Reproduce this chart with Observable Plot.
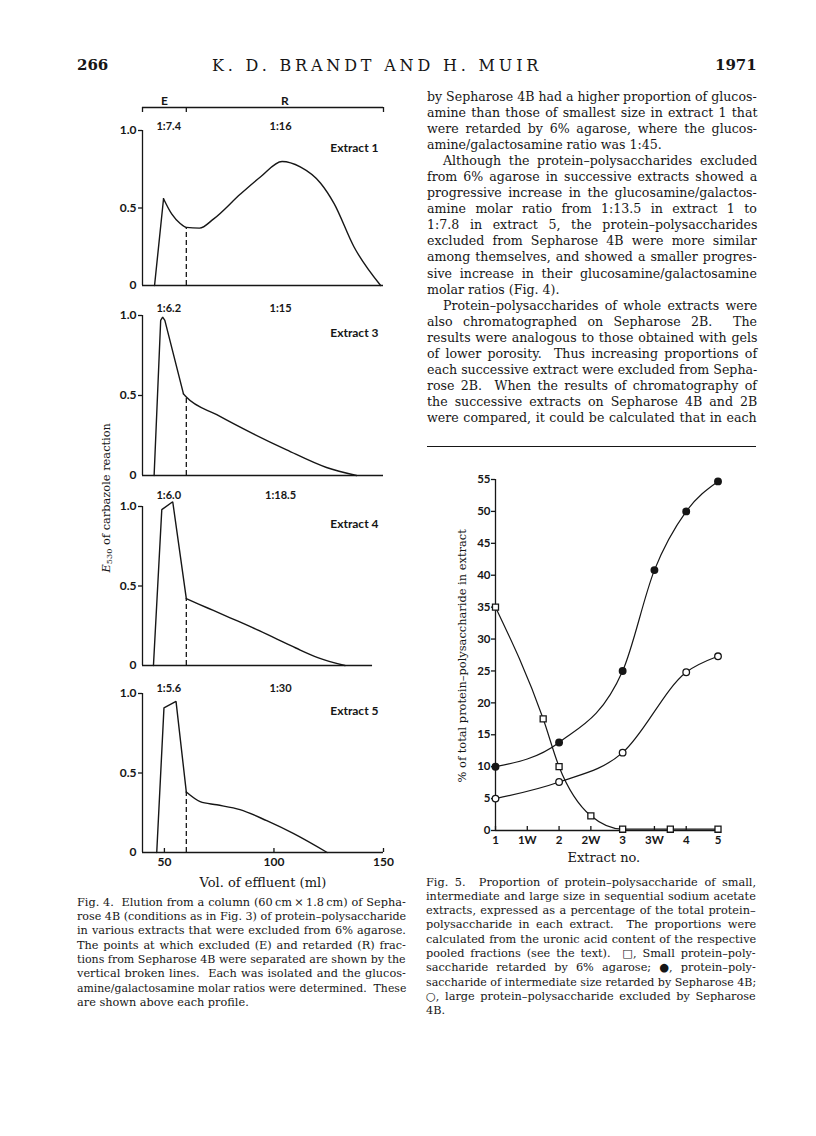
<!DOCTYPE html>
<html><head><meta charset="utf-8">
<script src="https://cdn.jsdelivr.net/npm/d3@7"></script>
<script src="https://cdn.jsdelivr.net/npm/@observablehq/plot@0.6"></script>
<style>
html,body{margin:0;padding:0;background:#fff;}
#page{position:relative;width:816px;height:1136px;overflow:hidden;background:#fff;color:#161616;}
.t{position:absolute;white-space:pre;font-family:"DejaVu Serif",serif;}
.p{position:absolute;}
svg{overflow:visible}
sub{font-size:0.72em;vertical-align:-0.25em;line-height:0}
</style></head><body><div id="page"></div>
<script>
// ---------------- Fig. 4 data (Sepharose 4B elution profiles) ----------------
const extractNames = ["Extract 1", "Extract 3", "Extract 4", "Extract 5"];
const ratioE = ["1:7.4", "1:6.2", "1:6.0", "1:5.6"];
const ratioR = ["1:16", "1:15", "1:18.5", "1:30"];
// [vol (ml), E530]; straight rising/peak segments
const peak1 = [[45.5, 0], [49.6, 0.56]];
const peak3 = [[45.3, 0], [48.3, 0.97], [49.2, 0.99], [50.2, 0.97], [58.7, 0.51]];
const peak4 = [[45, 0], [48.8, 0.98], [53.8, 1.03], [60, 0.42]];
const peak5 = [[46.5, 0], [49.8, 0.91], [55.3, 0.95], [60, 0.38]];
// smooth trailing segments
const tail1 = [[49.6, 0.56], [53.4, 0.46], [57.2, 0.40], [60, 0.375], [66, 0.37], [72.5, 0.43], [84.7, 0.59], [93.8, 0.70], [103.7, 0.80], [112, 0.765], [121.3, 0.66], [127.4, 0.53], [136.5, 0.25], [148.7, 0]];
const tail3 = [[58.7, 0.51], [60, 0.49], [73.9, 0.38], [90.6, 0.26], [105.8, 0.16], [124, 0.05], [137.7, 0]];
const tail4 = [[60, 0.42], [70, 0.36], [80, 0.30], [90, 0.24], [100, 0.175], [110, 0.11], [120, 0.05], [132.4, 0]];
const tail5 = [[60, 0.38], [66.3, 0.32], [73.9, 0.30], [84.5, 0.27], [96.7, 0.20], [108.8, 0.12], [124.3, 0]];
const cutVolume = 60;                 // E / R separation (ml)
const baselineEnd = [150, 150, 145, 150];
const volDomain = [40, 150];
const volTicks = [50, 100, 150];
const e530Ticks = [0.5, 1];
const bracketTicks = [40, 60, 150];
const bracketLabels = [{v: 50, t: "E"}, {v: 105, t: "R"}];

// ---------------- Fig. 5 data ----------------
const extractLabels = ["1", "1W", "2", "2W", "3", "3W", "4", "5"];
const extractPos = [0, 1, 2, 3, 4, 5, 6, 7];
const pctTicks = [0, 5, 10, 15, 20, 25, 30, 35, 40, 45, 50, 55];
const smallPos = [0, 1.5, 2, 3, 4, 5.5, 7];
const smallPct = [35, 17.5, 10, 2.3, 0.2, 0.2, 0.2];
const interPos = [0, 2, 4, 5, 6, 7];
const interPct = [10, 13.8, 25, 40.8, 50, 54.7];
const largePos = [0, 2, 4, 6, 7];
const largePct = [5, 7.6, 12.2, 24.8, 27.3];

// ---------------- text ----------------
const bodyLines = [
 ["by Sepharose 4B had a higher proportion of glucos-", ""],
 ["amine than those of smallest size in extract 1 that", ""],
 ["were retarded by 6% agarose, where the glucos-", ""],
 ["amine/galactosamine ratio was 1:45.", "l"],
 ["Although the protein\u2013polysaccharides excluded", "i"],
 ["from 6% agarose in successive extracts showed a", ""],
 ["progressive increase in the glucosamine/galactos-", ""],
 ["amine molar ratio from 1:13.5 in extract 1 to", ""],
 ["1:7.8 in extract 5, the protein\u2013polysaccharides", ""],
 ["excluded from Sepharose 4B were more similar", ""],
 ["among themselves, and showed a smaller progres-", ""],
 ["sive increase in their glucosamine/galactosamine", ""],
 ["molar ratios (Fig. 4).", "l"],
 ["Protein\u2013polysaccharides of whole extracts were", "i"],
 ["also chromatographed on Sepharose 2B.  The", ""],
 ["results were analogous to those obtained with gels", ""],
 ["of lower porosity.  Thus increasing proportions of", ""],
 ["each successive extract were excluded from Sepha-", ""],
 ["rose 2B.  When the results of chromatography of", ""],
 ["the successive extracts on Sepharose 4B and 2B", ""],
 ["were compared, it could be calculated that in each", ""]
];
const cap4Lines = [
 ["Fig. 4.  Elution from a column (60\u2009cm\u2009\u00d7\u20091.8\u2009cm) of Sepha-", ""],
 ["rose 4B (conditions as in Fig. 3) of protein\u2013polysaccharide", ""],
 ["in various extracts that were excluded from 6% agarose.", ""],
 ["The points at which excluded (E) and retarded (R) frac-", ""],
 ["tions from Sepharose 4B were separated are shown by the", ""],
 ["vertical broken lines.  Each was isolated and the glucos-", ""],
 ["amine/galactosamine molar ratios were determined.  These", ""],
 ["are shown above each profile.", "l"]
];
const cap5Lines = [
 ["Fig. 5.  Proportion of protein\u2013polysaccharide of small,", ""],
 ["intermediate and large size in sequential sodium acetate", ""],
 ["extracts, expressed as a percentage of the total protein\u2013", ""],
 ["polysaccharide in each extract.  The proportions were", ""],
 ["calculated from the uronic acid content of the respective", ""],
 ["pooled fractions (see the text).  \u25a1, Small protein\u2013poly-", ""],
 ["saccharide retarded by 6% agarose; \u25cf, protein\u2013poly-", ""],
 ["saccharide of intermediate size retarded by Sepharose 4B;", ""],
 ["\u25cb, large protein\u2013polysaccharide excluded by Sepharose", ""],
 ["4B.", "l"]
];

// ---------------- layout helpers ----------------
const ink = "#161616";
const page = document.getElementById("page");

function textLine(str, o) {
  const d = document.createElement("div");
  d.className = "t";
  if (o.html) d.innerHTML = str; else d.textContent = str;
  d.style.fontSize = o.size + "px";
  const lh = o.lh || o.size * 1.3;
  d.style.lineHeight = lh + "px";
  if (o.weight) d.style.fontWeight = o.weight;
  if (o.family) d.style.fontFamily = o.family;
  page.appendChild(d);
  d.style.top = (o.yc - lh / 2) + "px";
  const nat = d.offsetWidth;
  let x = o.x;
  if (o.mode === "justify") {
    const n = (str.match(/ /g) || []).length;
    if (nat < o.w && n) d.style.wordSpacing = ((o.w - nat) / n) + "px";
    else if (nat > o.w) { d.style.transformOrigin = "0 50%"; d.style.transform = `scaleX(${o.w / nat})`; }
  } else if (o.mode === "spread") {
    if (nat < o.w) d.style.letterSpacing = ((o.w - nat) / (str.length - 1)) + "px";
    else { d.style.transformOrigin = "0 50%"; d.style.transform = `scaleX(${o.w / nat})`; }
  } else if (o.mode === "center") x = o.x - nat / 2;
  else if (o.mode === "right") x = o.x - nat;
  else if (o.w && nat > o.w) { d.style.transformOrigin = "0 50%"; d.style.transform = `scaleX(${o.w / nat})`; }
  d.style.left = x + "px";
  return d;
}
function rotLabel(html, cx, cy, len, size) {
  const d = document.createElement("div");
  d.className = "t"; d.innerHTML = html; d.style.fontSize = size + "px"; d.style.lineHeight = "1.2";
  page.appendChild(d);
  const nat = d.offsetWidth;
  d.style.fontSize = (size * len / nat) + "px";
  const w = d.offsetWidth, h = d.offsetHeight;
  d.style.left = (cx - w / 2) + "px"; d.style.top = (cy - h / 2) + "px";
  d.style.transform = "rotate(-90deg)";
}
function block(lines, x0, y0, w, step, size, indent) {
  lines.forEach(([s, f], i) => {
    const x = x0 + (f.includes("i") ? indent : 0);
    const ww = w - (f.includes("i") ? indent : 0);
    textLine(s, {x, yc: y0 + i * step, w: ww, size, lh: step, mode: f.includes("l") ? "left" : "justify"});
  });
}
function put(svg, left, top) {
  const holder = document.createElement("div");
  holder.className = "p"; holder.style.left = left + "px"; holder.style.top = top + "px";
  holder.appendChild(svg); page.appendChild(holder);
}

// ---------------- header ----------------
textLine("266", {x: 77, yc: 66, size: 15, weight: "bold", mode: "left"});
textLine("K. D. BRANDT AND H. MUIR", {x: 212, yc: 66, w: 326, size: 16, mode: "spread"});
textLine("1971", {x: 757, yc: 66, size: 15, weight: "bold", mode: "right"});

// ---------------- right column text ----------------
block(bodyLines, 427, 97, 330, 16.05, 12.6, 16);
const rule = document.createElement("div");
rule.className = "p";
Object.assign(rule.style, {left: "427px", top: "446px", width: "329px", height: "1.4px", background: ink});
page.appendChild(rule);

// ---------------- Fig. 4 ----------------
const panelTop = [130, 315, 506, 693];   // pixel y of E530 = 1.0
const panelBot = [285, 475, 665, 852];   // pixel y of E530 = 0
const ratioDy = [-8, -11, -15, -9];
const peaks = [peak1, peak3, peak4, peak5];
const tails = [tail1, tail3, tail4, tail5];
const figFont = {fontFamily: "Lato, 'Open Sans', sans-serif", fontSize: "12px", fontWeight: "700", color: ink, background: "transparent"};

// E / R bracket
put(Plot.plot({
  width: 400, height: 40, marginLeft: 142, marginRight: 17, marginTop: 25, marginBottom: 10,
  x: {domain: volDomain, axis: null}, y: {domain: [0, 1], axis: null},
  style: figFont,
  marks: [
    Plot.ruleY([1], {x1: volDomain[0], x2: volDomain[1], stroke: ink, strokeWidth: 1.3}),
    Plot.ruleX(bracketTicks, {x: d => d, y1: 0, y2: 1, stroke: ink, strokeWidth: 1.3}),
    Plot.text(bracketLabels, {x: "v", text: "t", frameAnchor: "top", dy: -11, fill: ink})
  ]
}), 0, 107 - 25);

for (let i = 0; i < 4; i++) {
  const mt = 32, last = i === 3, mb = last ? 30 : 6;
  const ph = panelBot[i] - panelTop[i];
  const peak = peaks[i].map(([v, e]) => ({v, e}));
  const tail = tails[i].map(([v, e]) => ({v, e}));
  const cutTop = tail.find(d => d.v === cutVolume).e;
  const marks = [
    Plot.ruleX([volDomain[0]], {y1: 0, y2: 1, stroke: ink, strokeWidth: 1.3}),
    Plot.ruleY([0], {x1: volDomain[0], x2: baselineEnd[i], stroke: ink, strokeWidth: 1.3}),
    Plot.axisY({ticks: e530Ticks, tickFormat: d => d.toFixed(1), tickSize: 4, tickPadding: 2, stroke: ink, strokeWidth: 1.3, label: null}),
    Plot.axisY({ticks: [0], tickFormat: () => "0", tickSize: 0, tickPadding: 6, label: null}),
    Plot.ruleX([cutVolume], {y1: 0, y2: cutTop, stroke: ink, strokeWidth: 1.3, strokeDasharray: "5,3"}),
    Plot.line(peak, {x: "v", y: "e", stroke: ink, strokeWidth: 1.4, strokeLinejoin: "miter"}),
    Plot.line(tail, {x: "v", y: "e", curve: "monotone-x", stroke: ink, strokeWidth: 1.4}),
    Plot.text([ratioE[i]], {x: 52, frameAnchor: "top", dy: ratioDy[i], text: d => d, fill: ink, fontSize: 11}),
    Plot.text([ratioR[i]], {x: 103, frameAnchor: "top", dy: ratioDy[i], text: d => d, fill: ink, fontSize: 11}),
    Plot.text([extractNames[i]], {frameAnchor: "top-right", textAnchor: "end", dx: -5, dy: 13, text: d => d, fill: ink})
  ];
  if (last) {
    marks.push(Plot.tickX(volTicks, {x: d => d, insetTop: ph - 4, stroke: ink, strokeWidth: 1.3}));
    marks.push(Plot.axisX({ticks: volTicks, tickSize: 0, tickPadding: 5, label: null}));
  }
  put(Plot.plot({
    width: 400, height: mt + ph + mb, marginLeft: 142, marginRight: 17, marginTop: mt, marginBottom: mb,
    x: {domain: volDomain, ...(last ? {} : {axis: null})}, y: {domain: [0, 1]},
    style: figFont, marks
  }), 0, panelTop[i] - mt);
}
textLine("Vol. of effluent (ml)", {x: 263, yc: 883, size: 13, mode: "center"});
rotLabel("<i>E</i><sub>530</sub> of carbazole reaction", 106, 498, 150, 12);
block(cap4Lines, 77, 903, 329, 14.3, 11.3, 0);

// ---------------- Fig. 5 ----------------
const toRows = (P, V) => P.map((p, k) => ({p, v: V[k]}));
const small = toRows(smallPos, smallPct), inter = toRows(interPos, interPct), large = toRows(largePos, largePct);
const f5h = 440, f5mt = 39, f5mb = 50;
put(Plot.plot({
  width: 380, height: f5h, marginLeft: 95, marginRight: 62.5, marginTop: f5mt, marginBottom: f5mb,
  x: {domain: [0, 7]}, y: {domain: [0, 55]},
  style: {...figFont, fontSize: "11.5px"},
  marks: [
    Plot.ruleX([0], {y1: 0, y2: 55, stroke: ink, strokeWidth: 1.3}),
    Plot.ruleY([0], {x1: 0, x2: 7, stroke: ink, strokeWidth: 1.3}),
    Plot.axisY({ticks: pctTicks, tickSize: 4, tickPadding: 1, stroke: ink, strokeWidth: 1.3, label: null}),
    Plot.tickX(extractPos, {x: d => d, insetTop: f5h - f5mt - f5mb - 4, stroke: ink, strokeWidth: 1.3}),
    Plot.axisX({ticks: extractPos, tickFormat: k => extractLabels[k], tickSize: 0, tickPadding: 5, label: null}),
    Plot.line(small, {x: "p", y: "v", curve: "monotone-x", stroke: ink, strokeWidth: 1.2}),
    Plot.line(inter, {x: "p", y: "v", curve: "monotone-x", stroke: ink, strokeWidth: 1.2}),
    Plot.line(large, {x: "p", y: "v", curve: "monotone-x", stroke: ink, strokeWidth: 1.2}),
    Plot.dot(small, {x: "p", y: "v", symbol: "square", r: 3.4, fill: "white", stroke: ink, strokeWidth: 1.3}),
    Plot.dot(inter, {x: "p", y: "v", r: 3.2, fill: ink, stroke: ink}),
    Plot.dot(large, {x: "p", y: "v", r: 3.3, fill: "white", stroke: ink, strokeWidth: 1.3})
  ]
}), 400, 440);
textLine("Extract no.", {x: 604, yc: 858, size: 13, mode: "center"});
rotLabel("% of total protein\u2013polysaccharide in extract", 462, 656, 253, 12);
block(cap5Lines, 426, 882.7, 330, 14.3, 11.3, 0);
</script></body></html>
